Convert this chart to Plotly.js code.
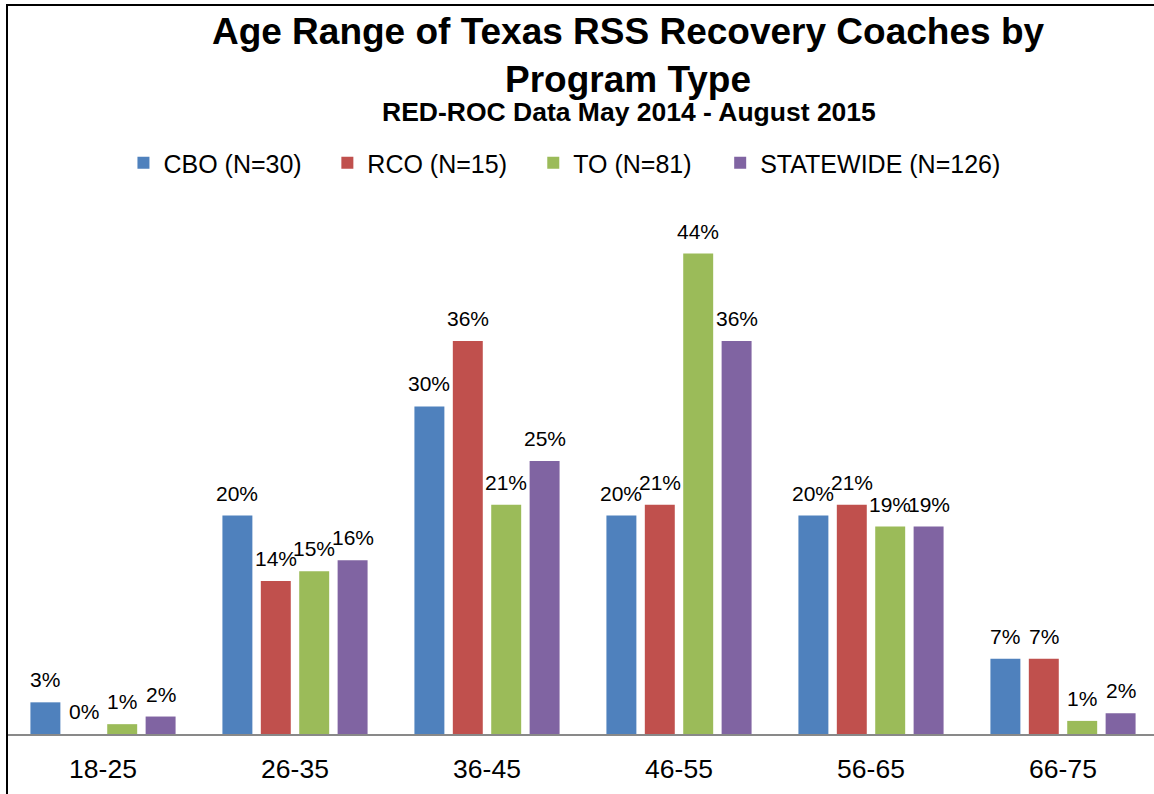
<!DOCTYPE html>
<html><head><meta charset="utf-8">
<script src="https://cdn.plot.ly/plotly-3.0.1.min.js"></script>
<style>
html,body{margin:0;padding:0;overflow:hidden;background:#fff;}
#chart{position:absolute;left:0;top:0;width:1159px;height:794px;}
#frame{position:absolute;left:6px;top:4px;width:1200px;height:900px;border-left:2px solid #000;border-top:2px solid #000;pointer-events:none;}
</style></head><body>
<div id="chart"></div><div id="frame"></div>
<script>
const categories = ['18-25','26-35','36-45','46-55','56-65','66-75'];
const seriesNames = ['CBO (N=30)','RCO (N=15)','TO (N=81)','STATEWIDE (N=126)'];
const cbo = [2.9, 20.0, 30.0, 20.0, 20.0, 6.9];
const rco = [0, 14.0, 36.0, 21.0, 21.0, 6.9];
const to = [0.9, 14.9, 21.0, 44.0, 19.0, 1.2];
const statewide = [1.6, 15.9, 25.0, 36.0, 19.0, 1.9];
const colors = ['#4F81BD','#C0504D','#9BBB59','#8064A2'];
const titleText = 'Age Range of Texas RSS Recovery Coaches by<br>Program Type';
const subtitleText = 'RED-ROC Data May 2014 - August 2015';

const FONT = 'Liberation Sans, Arial, sans-serif';
const series = [cbo, rco, to, statewide];
const bargap = 0.2, bargroupgap = 0.22;
const slot = (1 - bargap) / series.length;
const legendIds = ['legend', 'legend2', 'legend3', 'legend4'];
const legendLeftPx = [123, 327, 533, 720];

const traces = series.map((vals, i) => ({
  type: 'bar', name: seriesNames[i], x: categories, y: vals, legend: legendIds[i],
  marker: {color: colors[i]}, hoverinfo: 'skip'
}));

const annotations = [];
series.forEach((vals, i) => {
  vals.forEach((v, j) => {
    annotations.push({
      xref: 'x', yref: 'y', x: j + (i - (series.length - 1) / 2) * slot, y: v,
      text: Math.round(v) + '%', showarrow: false, xanchor: 'center', yanchor: 'bottom',
      yshift: 9, font: {family: FONT, size: 21, color: '#000'}
    });
  });
});
annotations.push({
  xref: 'paper', yref: 'paper', x: (628.5 - 6.5) / 1152.5, y: (734 - 112) / 546,
  xanchor: 'center', yanchor: 'middle', showarrow: false, text: '<b>' + subtitleText + '</b>',
  font: {family: FONT, size: 26.5, color: '#000'}
});

const layout = {
  width: 1159, height: 794,
  margin: {l: 6.5, r: 0, t: 188, b: 60, pad: 0},
  paper_bgcolor: '#fff', plot_bgcolor: '#fff',
  font: {family: FONT, color: '#000'},
  title: {text: '<b>' + titleText + '</b>', x: 628 / 1159, xanchor: 'center', xref: 'container',
          y: 0.945, yanchor: 'top', yref: 'container', font: {family: FONT, size: 37, color: '#000'}},
  barmode: 'group', bargap: bargap, bargroupgap: bargroupgap,
  showlegend: true,
  xaxis: {type: 'category', showline: true, linecolor: '#898989', linewidth: 2, ticks: '',
          ticklabelstandoff: 10,
          showgrid: false, zeroline: false, tickfont: {family: FONT, size: 26.5, color: '#000'}},
  yaxis: {range: [0, 50], visible: false, showgrid: false, zeroline: false, fixedrange: true},
  annotations: annotations
};
legendIds.forEach((id, i) => {
  layout[id] = {orientation: 'h', x: (legendLeftPx[i] - 6.5) / 1152.5, xanchor: 'left',
                y: (734 - 163) / 546, yanchor: 'middle',
                font: {family: FONT, size: 25, color: '#000'}, bgcolor: 'rgba(0,0,0,0)'};
});
Plotly.newPlot('chart', traces, layout, {displayModeBar: false, staticPlot: true});
</script></body></html>
